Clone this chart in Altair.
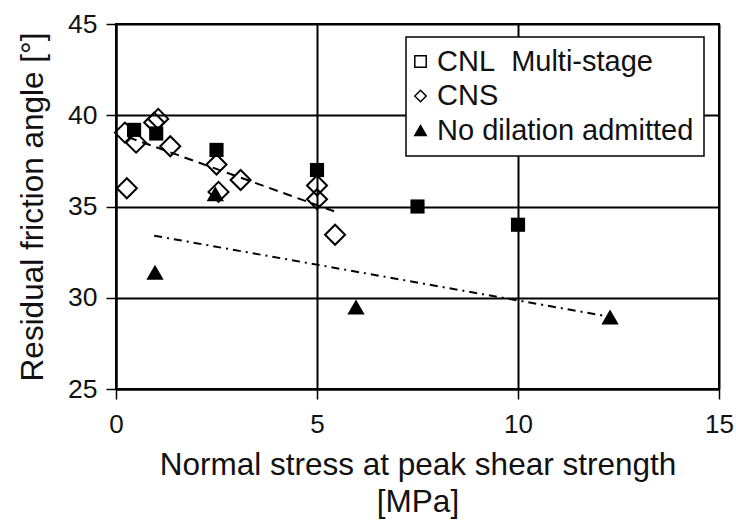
import altair as alt
import pandas as pd

# ---- data ----
series = ["CNL\u00a0 Multi-stage", "CNS", "No dilation admitted"]

cnl_x = [0.45, 1.0, 2.5, 5.0, 7.5, 10.0]
cnl_y = [39.2, 39.0, 38.1, 37.0, 35.0, 34.0]

cns_x = [0.22, 0.5, 0.27, 0.95, 1.05, 1.35, 2.5, 2.55, 3.1, 5.0, 5.0, 5.45]
cns_y = [39.05, 38.5, 36.0, 39.6, 39.8, 38.3, 37.3, 35.8, 36.45, 36.15, 35.4, 33.45]

nd_x = [0.97, 2.47, 5.97, 12.29]
nd_y = [31.4, 35.7, 29.5, 28.95]

trend_cns_x = [0.3, 5.45]
trend_cns_y = [38.8, 34.72]
trend_nd_x = [0.95, 12.3]
trend_nd_y = [33.4, 28.95]

x_ticks = [0, 5, 10, 15]
y_ticks = [25, 30, 35, 40, 45]

FONT = "Liberation Sans"

df_cnl = pd.DataFrame({"x": cnl_x, "y": cnl_y})
df_cns = pd.DataFrame({"x": cns_x, "y": cns_y})
df_nd = pd.DataFrame({"x": nd_x, "y": nd_y})
df_t1 = pd.DataFrame({"x": trend_cns_x, "y": trend_cns_y})
df_t2 = pd.DataFrame({"x": trend_nd_x, "y": trend_nd_y})
df_leg = pd.DataFrame({"series": series, "x": [0, 0, 0], "y": [0, 0, 0]})

x_enc = alt.X(
    "x:Q",
    scale=alt.Scale(domain=[0, 15], nice=False, zero=False),
    axis=alt.Axis(
        values=x_ticks,
        title=["Normal stress at peak shear strength", "[MPa]"],
        titleFontSize=31.5,
        titleFontWeight="normal",
        titleLineHeight=37,
        titlePadding=12,
        titleColor="#111",
        labelFontSize=26,
        labelColor="#111",
        labelPadding=12,
        labelFlush=False,
        tickSize=10,
        tickWidth=1.5,
        tickColor="black",
        grid=True,
        gridColor="black",
        gridWidth=2,
        domainColor="black",
        domainWidth=2,
    ),
)
y_enc = alt.Y(
    "y:Q",
    scale=alt.Scale(domain=[25, 45], nice=False, zero=False),
    axis=alt.Axis(
        values=y_ticks,
        title="Residual friction angle [°]",
        titleFontSize=31.5,
        titleFontWeight="normal",
        titlePadding=18,
        titleColor="#111",
        labelFontSize=26.5,
        labelColor="#111",
        labelPadding=9,
        labelFlush=False,
        tickSize=10,
        tickWidth=1.5,
        tickColor="black",
        grid=True,
        gridColor="black",
        gridWidth=2,
        domainColor="black",
        domainWidth=2,
    ),
)

line_cns = alt.Chart(df_t1).mark_line(
    color="black", strokeWidth=2, strokeDash=[9, 6]
).encode(x=x_enc, y=y_enc)

line_nd = alt.Chart(df_t2).mark_line(
    color="black", strokeWidth=2, strokeDash=[8, 5, 2, 5]
).encode(x="x:Q", y="y:Q")

pts_cns = alt.Chart(df_cns).mark_point(
    shape="diamond", size=400, filled=False, color="black", strokeWidth=2, opacity=1
).encode(x="x:Q", y="y:Q")

pts_cnl = alt.Chart(df_cnl).mark_point(
    shape="square", size=200, filled=True, color="black", opacity=1
).encode(x="x:Q", y="y:Q")

pts_nd = alt.Chart(df_nd).mark_point(
    shape="triangle-up", size=300, filled=True, color="black", opacity=1
).encode(x="x:Q", y="y:Q")

legend_layer = alt.Chart(df_leg).transform_filter("false").mark_point(
    filled=True, strokeWidth=1.5, opacity=1
).encode(
    x="x:Q",
    y="y:Q",
    shape=alt.Shape(
        "series:N",
        scale=alt.Scale(domain=series, range=["square", "diamond", "triangle-up"]),
        legend=alt.Legend(
            title=None,
            orient="none",
            legendX=290,
            legendY=13,
            labelFontSize=29,
            labelFont=FONT,
            labelColor="#111",
            labelOffset=2,
            symbolOffset=-10,
            symbolSize=130,
            symbolStrokeWidth=1.5,
            rowPadding=4.5,
            padding=10,
            fillColor="white",
            strokeColor="black",
            labelLimit=400,
        ),
    ),
    fill=alt.Fill(
        "series:N",
        scale=alt.Scale(domain=series, range=["white", "white", "black"]),
        legend=None,
    ),
    stroke=alt.Stroke(
        "series:N",
        scale=alt.Scale(domain=series, range=["black", "black", "black"]),
        legend=None,
    ),
)

chart = alt.layer(
    line_cns, line_nd, pts_cns, pts_cnl, pts_nd, legend_layer
).properties(
    width=603,
    height=365,
    autosize=alt.AutoSizeParams(type="none"),
    padding={"left": 116, "top": 24, "right": 17, "bottom": 135},
).configure(
    font=FONT,
    background="white",
).configure_view(
    stroke="black", strokeWidth=2
).configure_legend(
    strokeWidth=1.5
)

chart.save("out.html", embed_options={"renderer": "svg", "actions": False})
